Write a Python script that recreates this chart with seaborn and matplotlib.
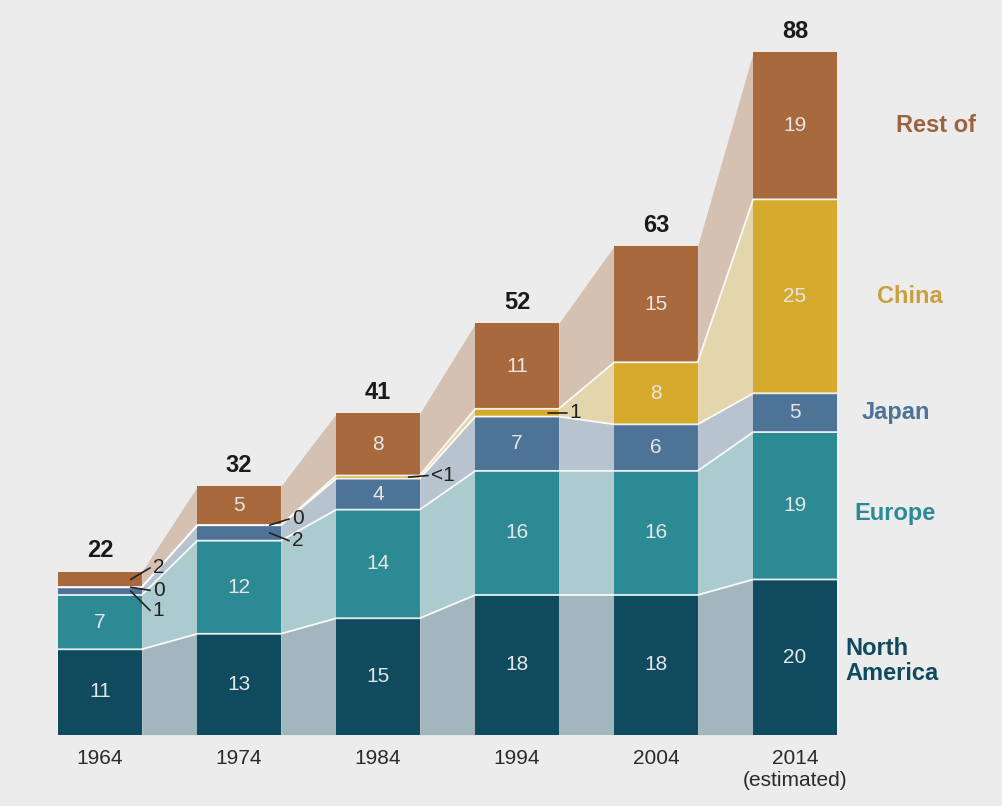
import numpy as np
import pandas as pd
import matplotlib
matplotlib.use("Agg")
import matplotlib.pyplot as plt
import seaborn as sns

# data
years = ["1964", "1974", "1984", "1994", "2004", "2014"]
year_labels = ["1964", "1974", "1984", "1994", "2004", "2014\n(estimated)"]
north_america = [11, 13, 15, 18, 18, 20]
europe = [7, 12, 14, 16, 16, 19]
japan = [1, 2, 4, 7, 6, 5]
china = [0, 0, 0.4, 1, 8, 25]
rest = [2, 5, 8, 11, 15, 19]
totals = [22, 32, 41, 52, 63, 88]

regions = ["North\nAmerica", "Europe", "Japan", "China", "Rest of"]
series = [north_america, europe, japan, china, rest]
colors = ["#0f4a5e", "#2b8a93", "#4d7396", "#d6aa2c", "#a86a3c"]
txt_colors = ["#0f4a5e", "#2b8a93", "#4d7396", "#c9a040", "#9a6440"]

sns.set_theme(style="white")
plt.rcParams['font.family'] = ['Liberation Sans', 'DejaVu Sans']

fig = plt.figure(figsize=(10.02, 8.06), dpi=100, facecolor="#ececec")
ax = fig.add_axes([0, 0, 1, 1])
ax.set_facecolor("#ececec")

w = 0.6
x = np.arange(len(years))
cum = np.cumsum(np.array(series), axis=0)
lower = np.vstack([np.zeros(len(years)), cum[:-1]])

# connecting bands between the bars
for k in range(len(series)):
    for i in range(len(years) - 1):
        xs = [i + w / 2, i + 1 - w / 2]
        ax.fill_between(xs, [lower[k][i], lower[k][i + 1]], [cum[k][i], cum[k][i + 1]],
                        color=colors[k], alpha=0.33, linewidth=0, zorder=1)

# stacked bars: draw cumulative heights from the top down
for k in range(len(series) - 1, -1, -1):
    df = pd.DataFrame({"year": years, "value": cum[k]})
    sns.barplot(data=df, x="year", y="value", color=colors[k], width=w,
                saturation=1, linewidth=0, ax=ax, zorder=2)

# white separator lines through bars and bands
for k in range(len(series) - 1):
    px, py = [], []
    for i in range(len(years)):
        px += [i - w / 2, i + w / 2]
        py += [cum[k][i], cum[k][i]]
    ax.plot(px, py, color="white", lw=1.3, zorder=3, alpha=0.9)

# values inside the segments
for k, vals in enumerate(series):
    for i, v in enumerate(vals):
        if v >= 3:
            ax.text(i, lower[k][i] + v / 2, str(v), ha="center", va="center",
                    color="#e6e6e6", fontsize=15, zorder=4)

# small values with leader lines
small = [(0, 4, "2", 21.5), (0, 3, "0", 18.6), (0, 2, "1", 16.0),
         (1, 3, "0", 27.8), (1, 2, "2", 25.0),
         (2, 3, "<1", 33.4), (3, 3, "1", 41.5)]
for i, k, lab, ty in small:
    y0 = lower[k][i] + series[k][i] / 2
    ax.plot([i + w / 2 - 0.08, i + w / 2 + 0.06], [y0, ty], color="#222222", lw=1.2, zorder=5)
    ax.text(i + w / 2 + 0.08, ty, lab, ha="left", va="center", fontsize=15,
            color="#222222", zorder=5)

# totals above bars
for i, t in enumerate(totals):
    ax.text(i, cum[-1][i] + 1.2, str(t), ha="center", va="bottom",
            fontsize=17, fontweight="bold", color="#1a1a1a")

# region labels on the right
label_x = [5.36, 5.43, 5.48, 5.59, 5.73]
label_y = [9.5, 28.5, 41.5, 56.5, 78.5]
for lx, ly, lab, c in zip(label_x, label_y, regions, txt_colors):
    ax.text(lx, ly, lab, ha="left", va="center", fontsize=17, fontweight="bold",
            color=c, linespacing=1.1)

ax.set_xlim(-0.72, 6.49)
ax.set_ylim(-9.2, 94.7)
ax.set_xlabel("")
ax.set_ylabel("")
ax.set_yticks([])
ax.set_xticks([])
for i, lab in enumerate(year_labels):
    ax.text(i, -1.8, lab, ha="center", va="top", fontsize=15, color="#2a2a2a",
            linespacing=1.2)
sns.despine(ax=ax, left=True, bottom=True)

fig.savefig("out.png", dpi=100, facecolor=fig.get_facecolor())
